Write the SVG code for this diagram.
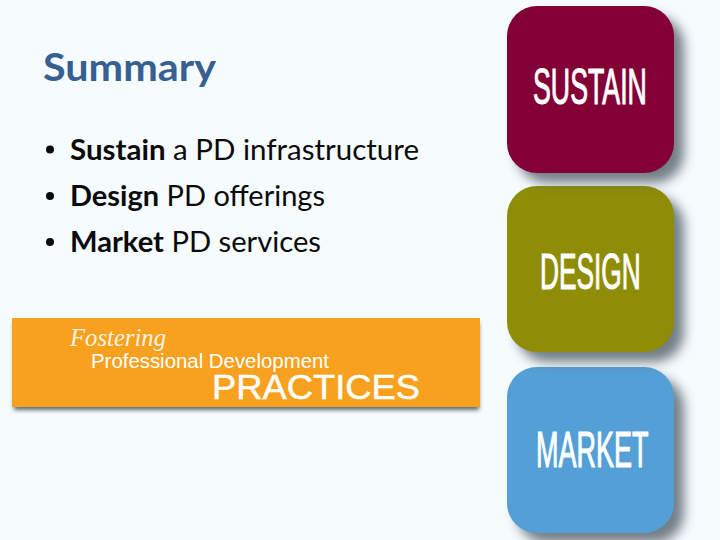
<svg xmlns="http://www.w3.org/2000/svg" width="720" height="540" viewBox="0 0 720 540">
<style>
.body{font-family:Lato,"Open Sans","Noto Sans",sans-serif;font-size:28px;fill:#0a0a0a}
.b{font-weight:700}
.tile{font-family:"Liberation Sans",Arial,sans-serif;font-size:50px;fill:#fff;stroke:#fff;stroke-width:1.100px}
.logo{font-family:"Liberation Sans",Arial,sans-serif;fill:#fff}
.shadow{fill:#5c6770;opacity:.85}
</style>
<defs>
<filter id="ts" x="-20%" y="-20%" width="150%" height="150%"><feGaussianBlur stdDeviation="6"/></filter>
<filter id="bs" x="-5%" y="-30%" width="110%" height="160%"><feGaussianBlur stdDeviation="2.200"/></filter>
</defs>
<rect width="720" height="540" fill="#f6fbfe"/>
<text x="43" y="81" font-family="Lato,'Open Sans',sans-serif" font-size="39" font-weight="700" fill="#376092" textLength="173" lengthAdjust="spacingAndGlyphs">Summary</text>
<g id="bullets" class="body">
<circle cx="50" cy="149.500" r="4" fill="#0a0a0a"/>
<circle cx="50" cy="196" r="4" fill="#0a0a0a"/>
<circle cx="50" cy="242" r="4" fill="#0a0a0a"/>
<text x="70" y="159.500" textLength="349" lengthAdjust="spacingAndGlyphs"><tspan class="b">Sustain</tspan> a PD infrastructure</text>
<text x="70" y="205.500" textLength="255" lengthAdjust="spacingAndGlyphs"><tspan class="b">Design</tspan> PD offerings</text>
<text x="70" y="251.500" textLength="251" lengthAdjust="spacingAndGlyphs"><tspan class="b">Market</tspan> PD services</text>
</g>
<g id="banner">
<rect x="14" y="323" width="465" height="87" fill="#5c6770" filter="url(#bs)"/>
<rect x="12" y="318" width="468" height="89" fill="#f7a11e"/>
<text x="70" y="346" font-family="'Liberation Serif',serif" font-style="italic" font-size="25" fill="#fff" fill-opacity=".9" textLength="96" lengthAdjust="spacingAndGlyphs">Fostering</text>
<text class="logo" x="91" y="368" font-size="20" textLength="238" lengthAdjust="spacingAndGlyphs">Professional Development</text>
<text class="logo" x="212" y="399" font-size="35" stroke="#fff" stroke-width=".5" textLength="208" lengthAdjust="spacingAndGlyphs">PRACTICES</text>
</g>
<g id="market">
<rect class="shadow" x="517" y="377" width="167" height="166" rx="30" filter="url(#ts)"/>
<rect x="507" y="367" width="167" height="166" rx="30" fill="#559fd7"/>
<text class="tile" transform="translate(536 467) scale(.54 1)">MARKET</text>
</g>
<g id="design">
<rect class="shadow" x="517" y="196" width="167" height="166" rx="30" filter="url(#ts)"/>
<rect x="507" y="186" width="167" height="166" rx="30" fill="#8e8d05"/>
<text class="tile" transform="translate(540 289) scale(.525 1)">DESIGN</text>
</g>
<g id="sustain">
<rect class="shadow" x="517" y="16" width="167" height="167" rx="30" filter="url(#ts)"/>
<rect x="507" y="6" width="167" height="167" rx="30" fill="#830036"/>
<text class="tile" transform="translate(533 104) scale(.535 1)">SUSTAIN</text>
</g>
</svg>
